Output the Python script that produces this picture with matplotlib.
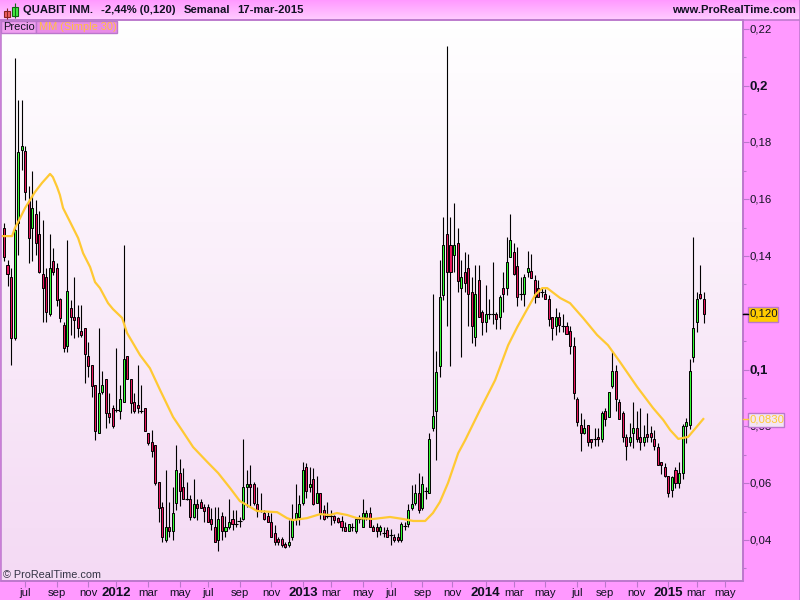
import numpy as np
import matplotlib
matplotlib.use("Agg")
import matplotlib.pyplot as plt
from matplotlib.colors import LinearSegmentedColormap
from matplotlib.patches import Rectangle

plt.rcParams['font.family'] = ['Liberation Sans', 'DejaVu Sans']

# Weekly candles
opens = [.1498,.1368,.1326,.1111,.1516,.1773,.1769,.1593,.1498,.1548,
         .1477,.1337,.1326,.1196,.1382,.1358,.1249,.1157,.1083,.1217,
         .1185,.1185,.1136,.1146,.1048,.1016,.0946,.0777,.0921,.0967,
         .0847,.0865,.0858,.0854,.0886,.1048,.0967,.0886,.0875,.0854,
         .0865,.0777,.0745,.0735,.0604,.0516,.0400,.0446,.0432,.0530,
         .0636,.0587,.0545,.0545,.0481,.0527,.0534,.0516,.0516,.0474,
         .0446,.0400,.0485,.0432,.0446,.0474,.0457,.0467,.0474,.0587,
         .0597,.0597,.0527,.0502,.0495,.0485,.0464,.0425,.0404,.0404,
         .0386,.0383,.0411,.0474,.0481,.0530,.0657,.0587,.0615,.0530,
         .0566,.0506,.0485,.0485,.0485,.0478,.0467,.0446,.0432,.0446,
         .0432,.0474,.0446,.0481,.0495,.0446,.0446,.0432,.0425,.0435,
         .0418,.0411,.0411,.0400,.0450,.0457,.0513,.0530,.0566,.0513,
         .0573,.0566,.0794,.0854,.1013,.1263,.1477,.1439,.1403,.1446,
         .1287,.1344,.1358,.1273,.1115,.1315,.1203,.1168,.1196,.1196,
         .1196,.1185,.1287,.1287,.1396,.1414,.1365,.1266,.1266,.1344,
         .1347,.1315,.1287,.1273,.1266,.1249,.1185,.1153,.1185,.1153,
         .1153,.1136,.1083,.0897,.0805,.0777,.0805,.0756,.0756,.0763,
         .0756,.0854,.0833,.0942,.0995,.0886,.0847,.0763,.0745,.0777,
         .0794,.0763,.0745,.0773,.0777,.0756,.0728,.0675,.0657,.0625,
         .0576,.0647,.0601,.0636,.0801,.0805,.1044,.1168,.1266,.1249]
highs = [.1516,.1386,.1358,.2097,.1949,.1949,.1787,.1646,.1699,.1597,
         .1558,.1527,.1358,.1477,.1428,.1375,.1252,.1168,.1456,.1245,
         .1326,.1227,.1227,.1146,.1097,.1016,.0946,.1146,.0995,.0967,
         .0918,.0875,.1076,.0946,.1439,.1048,.0967,.0918,.1016,.0946,
         .0865,.0777,.0787,.0735,.0604,.0534,.0647,.0534,.0587,.0735,
         .0685,.0654,.0604,.0559,.0615,.0545,.0545,.0527,.0527,.0513,
         .0516,.0516,.0499,.0485,.0545,.0506,.0506,.0481,.0756,.0647,
         .0664,.0604,.0587,.0566,.0506,.0499,.0495,.0453,.0411,.0411,
         .0393,.0471,.0527,.0597,.0559,.0675,.0671,.0657,.0654,.0625,
         .0566,.0523,.0534,.0506,.0488,.0481,.0485,.0464,.0457,.0460,
         .0481,.0488,.0545,.0506,.0516,.0453,.0460,.0453,.0446,.0446,
         .0439,.0421,.0425,.0464,.0464,.0527,.0594,.0597,.0636,.0625,
         .0587,.0777,.1266,.1065,.1386,.1537,.2139,.1537,.1586,.1498,
         .1386,.1414,.1407,.1326,.1368,.1368,.1210,.1298,.1249,.1379,
         .1203,.1263,.1344,.1467,.1548,.1446,.1432,.1326,.1336,.1417,
         .1407,.1333,.1315,.1291,.1284,.1263,.1185,.1217,.1203,.1196,
         .1168,.1153,.1115,.0904,.0847,.0826,.0805,.0756,.0794,.0794,
         .0854,.0865,.0921,.1065,.1016,.0897,.0854,.0773,.0812,.0886,
         .0854,.0865,.0805,.0847,.0801,.0787,.0742,.0675,.0671,.0625,
         .0625,.0657,.0675,.0808,.0830,.1037,.1467,.1273,.1368,.1273]
lows = [.1382,.1294,.1016,.1104,.1403,.1703,.1597,.1375,.1382,.1403,
        .1340,.1168,.1168,.1189,.1333,.1224,.1168,.1062,.1062,.1122,
        .1111,.1115,.1115,.0953,.0974,.0904,.0752,.0777,.0914,.0794,
        .0812,.0794,.0851,.0826,.0886,.0967,.0847,.0847,.0847,.0847,
        .0784,.0735,.0692,.0594,.0464,.0393,.0393,.0411,.0400,.0506,
        .0520,.0545,.0541,.0471,.0478,.0471,.0513,.0464,.0464,.0435,
        .0393,.0361,.0400,.0411,.0439,.0435,.0446,.0446,.0471,.0516,
        .0520,.0523,.0481,.0499,.0471,.0464,.0411,.0383,.0383,.0376,
        .0372,.0376,.0400,.0453,.0453,.0523,.0548,.0569,.0523,.0530,
        .0474,.0471,.0478,.0453,.0460,.0460,.0432,.0432,.0432,.0432,
        .0425,.0460,.0446,.0471,.0446,.0432,.0411,.0418,.0411,.0411,
        .0383,.0393,.0393,.0393,.0435,.0446,.0506,.0523,.0495,.0506,
        .0545,.0566,.0784,.0682,.0974,.1245,.1153,.1013,.1344,.1273,
        .1044,.1273,.1153,.1094,.1083,.1185,.1122,.1132,.1178,.1161,
        .1143,.1143,.1203,.1263,.1396,.1333,.1224,.1245,.1224,.1326,
        .1322,.1234,.1256,.1256,.1249,.1153,.1104,.1122,.1132,.1132,
        .1125,.1055,.0897,.0801,.0713,.0773,.0731,.0724,.0731,.0731,
        .0745,.0801,.0833,.0935,.0854,.0826,.0745,.0682,.0731,.0724,
        .0745,.0717,.0731,.0745,.0745,.0717,.0664,.0633,.0622,.0552,
        .0552,.0583,.0583,.0615,.0742,.0791,.1027,.1132,.1249,.1164]
closes = [.1396,.1336,.1111,.1491,.1766,.1787,.1625,.1463,.1569,.1446,
          .1344,.1287,.1203,.1358,.1344,.1245,.1182,.1076,.1277,.1185,
          .1175,.1146,.1122,.1055,.1013,.0942,.0784,.0918,.0946,.0847,
          .0833,.0801,.0858,.0897,.1037,.0967,.0882,.0854,.0865,.0854,
          .0784,.0742,.0713,.0601,.0513,.0411,.0446,.0432,.0495,.0647,
          .0573,.0545,.0545,.0481,.0527,.0513,.0513,.0502,.0464,.0457,
          .0393,.0474,.0432,.0446,.0464,.0457,.0457,.0467,.0587,.0597,
          .0587,.0530,.0502,.0502,.0474,.0464,.0411,.0393,.0393,.0383,
          .0376,.0393,.0474,.0495,.0527,.0647,.0573,.0597,.0527,.0566,
          .0495,.0474,.0485,.0485,.0471,.0464,.0446,.0432,.0457,.0446,
          .0474,.0474,.0495,.0495,.0446,.0432,.0432,.0446,.0425,.0411,
          .0418,.0400,.0400,.0457,.0450,.0506,.0527,.0566,.0506,.0597,
          .0573,.0756,.0837,.0992,.1256,.1439,.1344,.1344,.1439,.1312,
          .1326,.1305,.1266,.1153,.1266,.1185,.1168,.1196,.1196,.1196,
          .1178,.1256,.1266,.1379,.1456,.1337,.1256,.1266,.1326,.1358,
          .1322,.1256,.1256,.1273,.1249,.1178,.1146,.1185,.1157,.1153,
          .1125,.1083,.0918,.0816,.0777,.0794,.0745,.0745,.0756,.0756,
          .0847,.0826,.0921,.0995,.0897,.0826,.0763,.0731,.0763,.0794,
          .0756,.0745,.0763,.0763,.0763,.0731,.0664,.0664,.0625,.0566,
          .0622,.0601,.0636,.0801,.0816,.0995,.1146,.1249,.1252,.1196]

# Moving average read at these week positions
ma_weeks = [-0.6,2.3,3.1,4.6,6,7.4,8.8,10.8,13.1,13.9,15.1,15.9,16.8,18.8,21.1,22.5,24.5,25.9,27.3,
            29.6,31,33.6,35,38.7,41.5,44.4,48.1,50.6,53.8,57.8,60.9,64.3,67.1,72,77.7,80.5,82.2,86.2,
            89.9,92.7,94.7,97.6,100.4,105,109.8,113.5,116.4,119.8,122,124,126.3,129.2,131.2,135.4,139.7,
            143.4,146,148.2,151.1,153.1,154.5,158.2,161,164.7,168.7,171.8,175.2,180.1,184.6,187.5,189.5,
            191.8,194.6,198.9]
ma_values = [.1470,.1470,.1498,.1534,.1569,.1597,.1625,.1657,.1689,.1678,.1643,.1615,.1569,.1520,.1463,
             .1410,.1361,.1308,.1287,.1234,.1213,.1182,.1129,.1051,.1005,.0928,.0833,.0787,.0727,.0675,
             .0636,.0583,.0537,.0502,.0498,.0477,.0470,.0477,.0491,.0488,.0495,.0488,.0477,.0474,.0481,
             .0474,.0467,.0467,.0495,.0534,.0601,.0706,.0752,.0858,.0963,.1086,.1150,.1199,.1263,.1287,
             .1287,.1252,.1234,.1182,.1122,.1086,.1027,.0939,.0865,.0823,.0787,.0756,.0763,.0826]

tick_weeks = [6,15,24,32,41,50,58,67,76,85,93,102,110,119,127.5,137,145,154,163,171,180,189,197,205]
tick_labels = ['jul','sep','nov','2012','mar','may','jul','sep','nov','2013','mar','may',
               'jul','sep','nov','2014','mar','may','jul','sep','nov','2015','mar','may']
y_major = [.04,.06,.08,.1,.12,.14,.16,.18,.2,.22]
y_labels = ['0,04','0,06','0,08','0,1','','0,14','0,16','0,18','0,2','0,22']

PANEL = '#ff99ff'
BORDER = '#bb77cc'
GREEN = '#33ff33'
RED = '#e8175d'
MA_COL = '#ffc933'

fig = plt.figure(figsize=(8, 6), dpi=100, facecolor=PANEL)

def px_axes(x0, y0, x1, y1):
    # axes from pixel corners, y measured from the top
    return fig.add_axes([x0/800, 1-y1/600, (x1-x0)/800, (y1-y0)/600])

def gradient(x0, y0, x1, y1, c_top, c_bot):
    a = px_axes(x0, y0, x1, y1)
    cm = LinearSegmentedColormap.from_list('g', [c_top, c_bot])
    a.imshow(np.linspace(0, 1, 64).reshape(-1, 1), aspect='auto', cmap=cm)
    a.axis('off')
    return a

gradient(0, 0, 800, 20, '#ff99ff', '#ffccff')
bg = gradient(1, 20, 743, 581, '#ffffff', '#f4daf4')
bg.set_zorder(0)

ax = px_axes(1, 20, 743, 581)
ax.set_zorder(1)
ax.patch.set_alpha(0)
ax.set_xlim(-0.85, 210.2)
ax.set_ylim(0.02556, 0.2231)

weeks = np.arange(len(opens))
o = np.array(opens)
c = np.array(closes)
ax.vlines(weeks, lows, highs, color='black', lw=0.8, zorder=2)
up = c > o
down = c < o
flat = c == o
ax.bar(weeks[up], (c-o)[up], bottom=o[up], width=0.58, color=GREEN, edgecolor='black', lw=0.7, zorder=3)
ax.bar(weeks[down], (o-c)[down], bottom=c[down], width=0.58, color=RED, edgecolor='black', lw=0.7, zorder=3)
ax.hlines(o[flat], weeks[flat]-0.6, weeks[flat]+0.6, color='black', lw=0.8, zorder=3)
ax.plot(ma_weeks, ma_values, color=MA_COL, lw=1.6, zorder=4, solid_joinstyle='round')

for s in ['top', 'left']:
    ax.spines[s].set_visible(False)
for s in ['right', 'bottom']:
    ax.spines[s].set_color(BORDER)
    ax.spines[s].set_linewidth(1.2)

ax.set_xticks(tick_weeks)
ax.set_xticklabels([])
ax.tick_params(axis='x', length=4, width=0.8, color=BORDER)
ax.yaxis.tick_right()
ax.set_yticks(y_major)
ax.set_yticklabels([])
ax.set_yticks(np.arange(0.03, 0.22, 0.02), minor=True)
ax.tick_params(axis='y', which='major', length=4, width=0.8, color=BORDER)
ax.tick_params(axis='y', which='minor', length=2, width=0.8, color=BORDER)

# axis labels, so bold ones can differ
for w, s in zip(tick_weeks, tick_labels):
    big = s.isdigit()
    ax.annotate(s, (w, 0), xycoords=('data', 'axes fraction'), xytext=(0, -8.5), textcoords='offset points',
                ha='center', va='center', fontsize=9.5 if big else 8.2,
                fontweight='bold' if big else 'normal', color='#111122', annotation_clip=False)
for v, s in zip(y_major, y_labels):
    big = s in ('0,1', '0,2')
    ax.annotate(s, (1, v), xycoords=('axes fraction', 'data'), xytext=(4.5, -1 if big else -0.3), textcoords='offset points',
                ha='left', va='center', fontsize=9.5 if big else 8.2,
                fontweight='bold' if big else 'normal', color='#111122', annotation_clip=False)

# frame of the whole chart
ov = fig.add_axes([0, 0, 1, 1], zorder=5)
ov.set_xlim(0, 800)
ov.set_ylim(600, 0)
ov.axis('off')
ov.add_patch(Rectangle((0.5, 20), 742.5, 561, fill=False, ec=BORDER, lw=1.1))
ov.plot([0, 800], [20, 20], color=BORDER, lw=1.1)
ov.plot([799.5, 799.5], [0, 600], color=BORDER, lw=1.1)

# header icon
ov.vlines(7, 8, 19, color='#882222', lw=0.8)
ov.add_patch(Rectangle((3.5, 10.5), 6, 6, fc='#f06060', ec='#882222', lw=0.8))
ov.vlines(14.5, 3, 18, color='#116611', lw=0.8)
ov.add_patch(Rectangle((11.5, 6.5), 6, 9, fc='#44ee44', ec='#116611', lw=0.8))

# legend tabs
ov.add_patch(Rectangle((1, 21), 35, 12, fc='#f0a0f0', ec=BORDER, lw=1))
ov.add_patch(Rectangle((36, 21), 81, 12, fc='#e88ce8', ec=BORDER, lw=1))

# price boxes
ov.add_patch(Rectangle((747.5, 306.5), 30, 15, fc='#ffcc00', ec=BORDER, lw=1))
ov.add_patch(Rectangle((747.5, 412.5), 36, 14, fc='#f4e4f4', ec=BORDER, lw=1))
ov.plot([743, 748], [314, 314], color='black', lw=1)
ov.plot([743, 748], [419, 419], color=MA_COL, lw=1)

ov.text(23, 10, 'QUABIT INM.', fontsize=8.1, fontweight='bold', va='center', color='#111122')
ov.text(101, 10, '-2,44% (0,120)', fontsize=8.1, fontweight='bold', va='center', color='#111122')
ov.text(184, 10, 'Semanal', fontsize=8.1, fontweight='bold', va='center', color='#111122')
ov.text(237, 10, '17-mar-2015', fontsize=8.1, fontweight='bold', va='center', color='#111122')
ov.text(796, 10, 'www.ProRealTime.com', fontsize=8.1, fontweight='bold', va='center', ha='right', color='#111122')
ov.text(3, 27, 'Precio', fontsize=8, va='center', color='#111122')
ov.text(39, 27, 'MM (Simple 30)', fontsize=7.9, va='center', color='#ffc040')
ov.text(749, 314, '0,120', fontsize=8.2, va='center', color='#111122')
ov.text(749, 419.5, '0,0830', fontsize=8.2, va='center', color='#ffc933')
ov.text(3, 575, '© ProRealTime.com', fontsize=7.8, va='center', color='#333344')

fig.savefig('out.png', dpi=100, facecolor=PANEL)
